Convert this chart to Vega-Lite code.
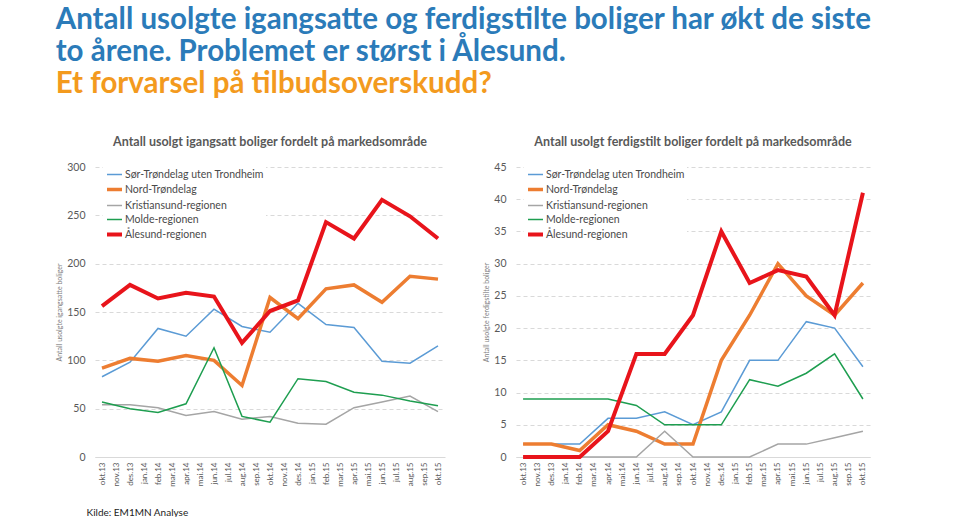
{
  "$schema": "https://vega.github.io/schema/vega-lite/v6.json",
  "background": "white",
  "padding": {"left": 55, "top": 4, "right": 5, "bottom": 0},
  "title": {
    "text": ["Antall usolgte igangsatte og ferdigstilte boliger har økt de siste", "to årene. Problemet er størst i Ålesund."],
    "subtitle": "Et forvarsel på tilbudsoverskudd?",
    "anchor": "start",
    "frame": "bounds",
    "font": "Lato",
    "fontSize": 29.5,
    "fontWeight": "bold",
    "color": "#2b7bb9",
    "lineHeight": 32,
    "subtitleFont": "Lato",
    "subtitleFontSize": 29.5,
    "subtitleFontWeight": "bold",
    "subtitleColor": "#f39a1e",
    "subtitleLineHeight": 33,
    "subtitlePadding": 3,
    "offset": 36
  },
  "datasets": {
    "igangsatt": [
      {"m": "okt.13", "Sør-Trøndelag uten Trondheim": 83, "Nord-Trøndelag": 92, "Kristiansund-regionen": 54, "Molde-regionen": 57, "Ålesund-regionen": 156},
      {"m": "des.13", "Sør-Trøndelag uten Trondheim": 98, "Nord-Trøndelag": 102, "Kristiansund-regionen": 54, "Molde-regionen": 50, "Ålesund-regionen": 178},
      {"m": "feb.14", "Sør-Trøndelag uten Trondheim": 133, "Nord-Trøndelag": 99, "Kristiansund-regionen": 51, "Molde-regionen": 46, "Ålesund-regionen": 164},
      {"m": "apr.14", "Sør-Trøndelag uten Trondheim": 125, "Nord-Trøndelag": 105, "Kristiansund-regionen": 43, "Molde-regionen": 55, "Ålesund-regionen": 170},
      {"m": "jun.14", "Sør-Trøndelag uten Trondheim": 153, "Nord-Trøndelag": 100, "Kristiansund-regionen": 47, "Molde-regionen": 113, "Ålesund-regionen": 166},
      {"m": "aug.14", "Sør-Trøndelag uten Trondheim": 135, "Nord-Trøndelag": 74, "Kristiansund-regionen": 39, "Molde-regionen": 42, "Ålesund-regionen": 118},
      {"m": "okt.14", "Sør-Trøndelag uten Trondheim": 129, "Nord-Trøndelag": 165, "Kristiansund-regionen": 42, "Molde-regionen": 36, "Ålesund-regionen": 151},
      {"m": "des.14", "Sør-Trøndelag uten Trondheim": 159, "Nord-Trøndelag": 143, "Kristiansund-regionen": 35, "Molde-regionen": 81, "Ålesund-regionen": 162},
      {"m": "feb.15", "Sør-Trøndelag uten Trondheim": 137, "Nord-Trøndelag": 174, "Kristiansund-regionen": 34, "Molde-regionen": 78, "Ålesund-regionen": 243},
      {"m": "apr.15", "Sør-Trøndelag uten Trondheim": 134, "Nord-Trøndelag": 178, "Kristiansund-regionen": 51, "Molde-regionen": 67, "Ålesund-regionen": 226},
      {"m": "jun.15", "Sør-Trøndelag uten Trondheim": 99, "Nord-Trøndelag": 160, "Kristiansund-regionen": 57, "Molde-regionen": 64, "Ålesund-regionen": 266},
      {"m": "aug.15", "Sør-Trøndelag uten Trondheim": 97, "Nord-Trøndelag": 187, "Kristiansund-regionen": 63, "Molde-regionen": 58, "Ålesund-regionen": 249},
      {"m": "okt.15", "Sør-Trøndelag uten Trondheim": 115, "Nord-Trøndelag": 184, "Kristiansund-regionen": 47, "Molde-regionen": 53, "Ålesund-regionen": 226}
    ],
    "ferdigstilt": [
      {"m": "okt.13", "Sør-Trøndelag uten Trondheim": 2, "Nord-Trøndelag": 2, "Kristiansund-regionen": 0, "Molde-regionen": 9, "Ålesund-regionen": 0},
      {"m": "des.13", "Sør-Trøndelag uten Trondheim": 2, "Nord-Trøndelag": 2, "Kristiansund-regionen": 0, "Molde-regionen": 9, "Ålesund-regionen": 0},
      {"m": "feb.14", "Sør-Trøndelag uten Trondheim": 2, "Nord-Trøndelag": 1, "Kristiansund-regionen": 0, "Molde-regionen": 9, "Ålesund-regionen": 0},
      {"m": "apr.14", "Sør-Trøndelag uten Trondheim": 6, "Nord-Trøndelag": 5, "Kristiansund-regionen": 0, "Molde-regionen": 9, "Ålesund-regionen": 4},
      {"m": "jun.14", "Sør-Trøndelag uten Trondheim": 6, "Nord-Trøndelag": 4, "Kristiansund-regionen": 0, "Molde-regionen": 8, "Ålesund-regionen": 16},
      {"m": "aug.14", "Sør-Trøndelag uten Trondheim": 7, "Nord-Trøndelag": 2, "Kristiansund-regionen": 4, "Molde-regionen": 5, "Ålesund-regionen": 16},
      {"m": "okt.14", "Sør-Trøndelag uten Trondheim": 5, "Nord-Trøndelag": 2, "Kristiansund-regionen": 0, "Molde-regionen": 5, "Ålesund-regionen": 22},
      {"m": "des.14", "Sør-Trøndelag uten Trondheim": 7, "Nord-Trøndelag": 15, "Kristiansund-regionen": 0, "Molde-regionen": 5, "Ålesund-regionen": 35},
      {"m": "feb.15", "Sør-Trøndelag uten Trondheim": 15, "Nord-Trøndelag": 22, "Kristiansund-regionen": 0, "Molde-regionen": 12, "Ålesund-regionen": 27},
      {"m": "apr.15", "Sør-Trøndelag uten Trondheim": 15, "Nord-Trøndelag": 30, "Kristiansund-regionen": 2, "Molde-regionen": 11, "Ålesund-regionen": 29},
      {"m": "jun.15", "Sør-Trøndelag uten Trondheim": 21, "Nord-Trøndelag": 25, "Kristiansund-regionen": 2, "Molde-regionen": 13, "Ålesund-regionen": 28},
      {"m": "aug.15", "Sør-Trøndelag uten Trondheim": 20, "Nord-Trøndelag": 22, "Kristiansund-regionen": 3, "Molde-regionen": 16, "Ålesund-regionen": 22},
      {"m": "okt.15", "Sør-Trøndelag uten Trondheim": 14, "Nord-Trøndelag": 27, "Kristiansund-regionen": 4, "Molde-regionen": 9, "Ålesund-regionen": 41}
    ]
  },
  "hconcat": [
    {
      "width": 350,
      "height": 290,
      "data": {"name": "igangsatt"},
      "transform": [{"fold": ["Sør-Trøndelag uten Trondheim", "Nord-Trøndelag", "Kristiansund-regionen", "Molde-regionen", "Ålesund-regionen"], "as": ["serie", "antall"]}],
      "title": {"text": "Antall usolgt igangsatt boliger fordelt på markedsområde"},
      "mark": {"type": "line", "strokeJoin": "miter"},
      "encoding": {
        "x": {
          "field": "m", "type": "ordinal",
          "scale": {"type": "point", "padding": 0.5, "domain": ["okt.13","nov.13","des.13","jan.14","feb.14","mar.14","apr.14","mai.14","jun.14","jul.14","aug.14","sep.14","okt.14","nov.14","des.14","jan.15","feb.15","mar.15","apr.15","mai.15","jun.15","jul.15","aug.15","sep.15","okt.15"]},
          "axis": {"title": "Kilde: EM1MN Analyse", "titleAnchor": "start", "titleAlign": "left", "titleX": -9, "titleY": 58, "titleBaseline": "alphabetic", "titleFont": "Lato", "titleFontSize": 10, "titleFontWeight": "normal", "titleColor": "#222222"}
        },
        "y": {
          "field": "antall", "type": "quantitative",
          "scale": {"domain": [0, 300]},
          "axis": {"values": [0, 50, 100, 150, 200, 250, 300], "title": "Antall usolgte igangsatte boliger"}
        },
        "color": {
          "field": "serie", "type": "nominal",
          "scale": {"domain": ["Sør-Trøndelag uten Trondheim", "Nord-Trøndelag", "Kristiansund-regionen", "Molde-regionen", "Ålesund-regionen"], "range": ["#5b9bd5", "#ed7d31", "#a5a5a5", "#1e9e50", "#e8141b"]}
        },
        "strokeWidth": {
          "field": "serie", "type": "nominal",
          "scale": {"type": "ordinal", "domain": ["Sør-Trøndelag uten Trondheim", "Nord-Trøndelag", "Kristiansund-regionen", "Molde-regionen", "Ålesund-regionen"], "range": [1.5, 3.5, 1.5, 1.5, 4]}
        }
      }
    },
    {
      "width": 354,
      "height": 290,
      "data": {"name": "ferdigstilt"},
      "transform": [{"fold": ["Sør-Trøndelag uten Trondheim", "Nord-Trøndelag", "Kristiansund-regionen", "Molde-regionen", "Ålesund-regionen"], "as": ["serie", "antall"]}],
      "title": {"text": "Antall usolgt ferdigstilt boliger fordelt på markedsområde"},
      "mark": {"type": "line", "strokeJoin": "miter"},
      "encoding": {
        "x": {
          "field": "m", "type": "ordinal",
          "scale": {"type": "point", "padding": 0.5, "domain": ["okt.13","nov.13","des.13","jan.14","feb.14","mar.14","apr.14","mai.14","jun.14","jul.14","aug.14","sep.14","okt.14","nov.14","des.14","jan.15","feb.15","mar.15","apr.15","mai.15","jun.15","jul.15","aug.15","sep.15","okt.15"]},
          "axis": {"title": null}
        },
        "y": {
          "field": "antall", "type": "quantitative",
          "scale": {"domain": [0, 45]},
          "axis": {"values": [0, 5, 10, 15, 20, 25, 30, 35, 40, 45], "title": "Antall usolgte ferdigstilte boliger"}
        },
        "color": {
          "field": "serie", "type": "nominal",
          "scale": {"domain": ["Sør-Trøndelag uten Trondheim", "Nord-Trøndelag", "Kristiansund-regionen", "Molde-regionen", "Ålesund-regionen"], "range": ["#5b9bd5", "#ed7d31", "#a5a5a5", "#1e9e50", "#e8141b"]}
        },
        "strokeWidth": {
          "field": "serie", "type": "nominal",
          "scale": {"type": "ordinal", "domain": ["Sør-Trøndelag uten Trondheim", "Nord-Trøndelag", "Kristiansund-regionen", "Molde-regionen", "Ålesund-regionen"], "range": [1.5, 3.5, 1.5, 1.5, 4]}
        }
      }
    }
  ],
  "spacing": 36,
  "resolve": {
    "scale": {"color": "independent", "strokeWidth": "independent", "y": "independent", "x": "independent"},
    "legend": {"color": "independent", "strokeWidth": "independent"}
  },
  "config": {
    "font": "Lato",
    "view": {"stroke": null},
    "title": {"font": "Lato", "fontSize": 12.5, "fontWeight": "bold", "color": "#595959", "offset": 14, "anchor": "middle"},
    "axisY": {
      "grid": true, "gridColor": "#d9d9d9", "gridDash": [4, 3], "gridWidth": 1,
      "domain": false, "ticks": false,
      "labelFont": "Lato", "labelFontSize": 10.5, "labelColor": "#595959", "labelPadding": 10,
      "titleFont": "Lato", "titleFontSize": 7, "titleFontWeight": "normal", "titleColor": "#7f7f7f", "titlePadding": 4
    },
    "axisX": {
      "grid": false, "domain": true, "domainColor": "#d9d9d9", "ticks": false,
      "labelAngle": -90, "labelFont": "Lato", "labelFontSize": 8, "labelColor": "#595959", "labelPadding": 5
    },
    "legend": {
      "orient": "none", "legendX": 8, "legendY": -3, "title": null, "symbolType": "stroke", "symbolSize": 225,
      "labelFont": "Lato", "labelFontSize": 10.5, "labelColor": "#4a4a4a",
      "rowPadding": 0, "padding": 2, "fillColor": "white", "labelOffset": 1
    }
  }
}
